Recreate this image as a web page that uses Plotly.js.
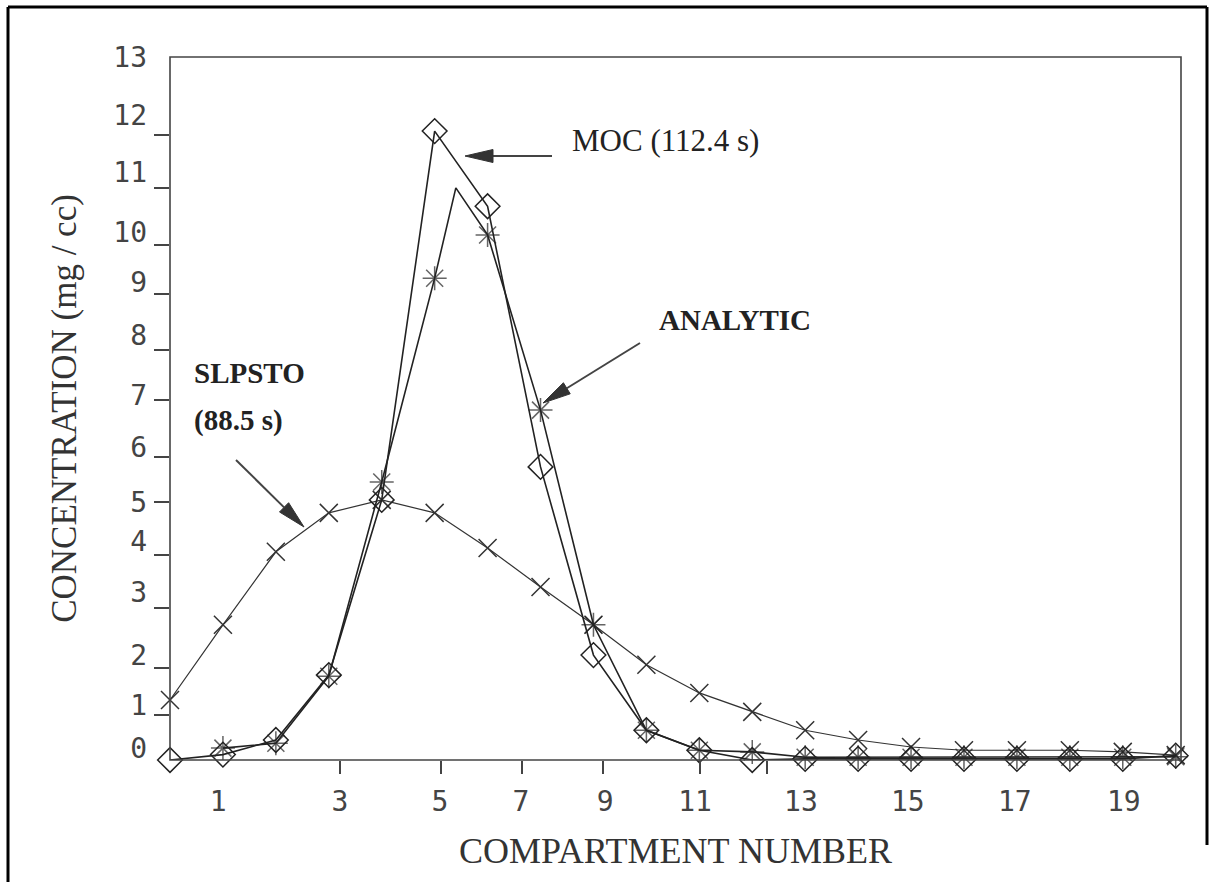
<!DOCTYPE html>
<html>
<head>
<meta charset="utf-8">
<script src="https://cdn.plot.ly/plotly-3.0.1.min.js"></script>
<style>html,body{margin:0;padding:0;background:#fff;}#chart{width:1215px;height:882px;}</style>
</head>
<body>
<div id="chart"></div>
<script>
// ---- data ----
const compartments = [0,1,2,3,4,5,6,7,8,9,10,11,12,13,14,15,16,17,18,19];
const mocConc = [0.00,0.10,0.37,1.57,4.81,11.63,10.24,5.42,1.94,0.55,0.18,0.00,0.02,0.02,0.02,0.02,0.02,0.02,0.02,0.08];
const analyticX = [1,2,3,4,5,5.4,6,7,8,9,10,11,12,13,14,15,16,17,18,19];
const analyticConc = [0.22,0.31,1.55,5.14,8.91,10.58,9.71,6.47,2.50,0.55,0.18,0.15,0.05,0.05,0.05,0.05,0.05,0.05,0.05,0.06];
const slpstoConc = [1.11,2.50,3.85,4.57,4.81,4.57,3.92,3.20,2.50,1.76,1.24,0.89,0.55,0.37,0.24,0.18,0.18,0.18,0.15,0.09];

// tick labels (placed where the reference prints them)
const xTickText = ['1','3','5','7','9','11','13','15','17','19'];
const xTickPos  = [0.91,3.21,5.10,6.63,8.22,9.92,11.92,13.94,15.96,18.02];
const xTickMarks = [3.21,5.12,6.65,8.18,10.01,11.28];
const yTickText = ['0','1','2','3','4','5','6','7','8','9','10','11','12','13'];
const yTickPos  = [0.22,1.02,1.94,3.11,4.05,4.77,5.79,6.75,7.86,8.84,9.76,10.87,11.93,13.0];
const yTickMarks = [0.83,1.70,2.81,3.79,4.77,5.60,6.66,7.58,8.62,9.52,10.58,11.56];

// ---- geometry helpers (pixel -> paper) ----
const L = 170, R = 1181, T = 57, B = 760;
const pX = X => (X - L) / (R - L);
const pY = Y => (B - Y) / (B - T);

const ink = '#222';

const traces = [
  {x: compartments, y: slpstoConc, mode: 'lines+markers', name: 'SLPSTO',
   line: {color: '#333', width: 1.2},
   marker: {symbol: 'x-thin-open', size: 18, color: '#333', line: {color: '#333', width: 1.5}},
   cliponaxis: false, hoverinfo: 'x+y'},
  {x: analyticX, y: analyticConc, mode: 'lines+markers', name: 'ANALYTIC',
   line: {color: ink, width: 1.6},
   marker: {symbol: 'asterisk-open', size: analyticX.map(v => Number.isInteger(v) ? 20 : 0),
            color: ink, line: {color: ink, width: 1.5}},
   cliponaxis: false, hoverinfo: 'x+y'},
  {x: compartments, y: mocConc, mode: 'lines+markers', name: 'MOC',
   line: {color: ink, width: 1.6},
   marker: {symbol: 'diamond-open', size: 19, color: ink, line: {color: ink, width: 1.5}},
   cliponaxis: false, hoverinfo: 'x+y'}
];

function arrowShapes(tail, tip) {
  const dx = tip[0] - tail[0], dy = tip[1] - tail[1];
  const len = Math.hypot(dx, dy), ux = dx / len, uy = dy / len;
  const hl = 28, hw = 6.5;
  const bx = tip[0] - ux * hl, by = tip[1] - uy * hl;
  const p1 = [bx - uy * hw, by + ux * hw], p2 = [bx + uy * hw, by - ux * hw];
  return [
    {type: 'line', xref: 'paper', yref: 'paper', x0: pX(tail[0]), y0: pY(tail[1]),
     x1: pX(bx), y1: pY(by), line: {color: '#444', width: 2}},
    {type: 'path', xref: 'paper', yref: 'paper',
     path: `M${pX(tip[0])},${pY(tip[1])} L${pX(p1[0])},${pY(p1[1])} L${pX(p2[0])},${pY(p2[1])} Z`,
     fillcolor: '#333', line: {color: '#333', width: 1}}
  ];
}

const shapes = [
  // plot frame
  {type: 'rect', xref: 'paper', yref: 'paper', x0: 0, y0: 0, x1: 1, y1: 1,
   line: {color: '#444', width: 1.6}},
  // outer page border
  {type: 'line', xref: 'paper', yref: 'paper', x0: pX(8), y0: pY(7), x1: pX(8), y1: pY(882), line: {color: '#000', width: 3}},
  {type: 'line', xref: 'paper', yref: 'paper', x0: pX(8), y0: pY(7), x1: pX(1207), y1: pY(7), line: {color: '#000', width: 3}},
  {type: 'line', xref: 'paper', yref: 'paper', x0: pX(1207), y0: pY(7), x1: pX(1207), y1: pY(845), line: {color: '#000', width: 3}},
  ...arrowShapes([552, 156], [465, 156]),
  ...arrowShapes([640, 343], [543, 403]),
  ...arrowShapes([236, 460], [304, 527])
];

const labelFont = {family: 'Liberation Serif, Times New Roman, serif', color: '#222'};
const annotations = [
  {text: 'MOC (112.4 s)', x: pX(570), y: pY(140), font: Object.assign({size: 31}, labelFont)},
  {text: '<b>ANALYTIC</b>', x: pX(657), y: pY(320), font: Object.assign({size: 29}, labelFont)},
  {text: '<b>SLPSTO</b>', x: pX(192), y: pY(373), font: Object.assign({size: 29}, labelFont)},
  {text: '<b>(88.5 s)</b>', x: pX(192), y: pY(421), font: Object.assign({size: 29}, labelFont)}
].map(a => Object.assign({xref: 'paper', yref: 'paper', xanchor: 'left', yanchor: 'middle', showarrow: false}, a));

const tickFont = {family: 'DejaVu Sans Mono, monospace', size: 28, color: '#444'};
const titleFont = {family: 'Liberation Serif, Times New Roman, serif', size: 35, color: '#333'};

const layout = {
  width: 1215, height: 882,
  margin: {l: L, r: 1215 - R, t: T, b: 882 - B},
  paper_bgcolor: '#fff', plot_bgcolor: '#fff',
  showlegend: false,
  xaxis: {
    range: [0, 19.1], showgrid: false, zeroline: false, showline: false,
    tickmode: 'array', tickvals: xTickPos, ticktext: xTickText, ticks: '',
    ticklabelstandoff: 22, tickfont: tickFont,
    minor: {tickmode: 'array', tickvals: xTickMarks, ticks: 'outside', ticklen: 13, tickwidth: 1.5, tickcolor: '#444', showgrid: false},
    title: {text: 'COMPARTMENT NUMBER', font: Object.assign({}, titleFont, {size: 36}), standoff: 20},
    automargin: true
  },
  yaxis: {
    range: [0, 13], showgrid: false, zeroline: false, showline: false,
    tickmode: 'array', tickvals: yTickPos, ticktext: yTickText, ticks: '',
    ticklabelstandoff: 22, tickfont: tickFont,
    minor: {tickmode: 'array', tickvals: yTickMarks, ticks: 'outside', ticklen: 15, tickwidth: 1.5, tickcolor: '#444', showgrid: false},
    title: {text: 'CONCENTRATION (mg / cc)', font: titleFont, standoff: 26},
    automargin: true
  },
  shapes: shapes,
  annotations: annotations
};

Plotly.newPlot('chart', traces, layout, {displayModeBar: false, staticPlot: true});
</script>
</body>
</html>
